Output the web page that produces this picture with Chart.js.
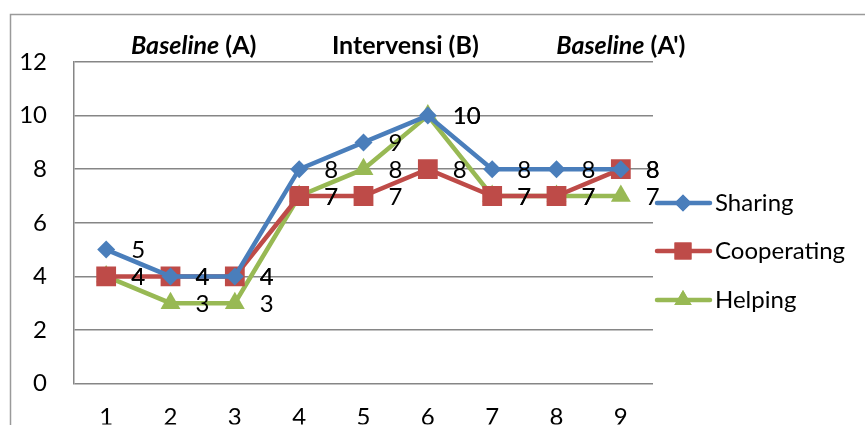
<!DOCTYPE html>
<html>
<head>
<meta charset="utf-8">
<script src="https://cdn.jsdelivr.net/npm/chart.js@4/dist/chart.umd.min.js"></script>
<style>
  html, body { margin: 0; padding: 0; background: #fff; overflow: hidden; }
  #wrap { width: 865px; height: 425px; position: relative; }
</style>
</head>
<body>
<div id="wrap"><canvas id="graf"></canvas></div>
<script>
// dados
const sesi = ['1', '2', '3', '4', '5', '6', '7', '8', '9']
const sharing = [5, 4, 4, 8, 9, 10, 8, 8, 8]
const cooperating = [4, 4, 4, 7, 7, 8, 7, 7, 8]
const helping = [4, 3, 3, 7, 8, 10, 7, 7, 7]
const nomesSeries = ['Sharing', 'Cooperating', 'Helping']
const fases = [
    { italico: 'Baseline', resto: ' (A)' },
    { italico: '', resto: 'Intervensi (B)' },
    { italico: 'Baseline', resto: " (A')" }
]

const FONTE = 'Lato, "Open Sans", sans-serif'
const cores = ['#4A7EBB', '#BE4B48', '#98B954']
const estilos = ['rectRot', 'rect', 'triangle']
const raios = [9, 14, 11.5]

// linhas de borda externa
const borda = {
    id: 'borda',
    beforeDraw(chart) {
        let ctx = chart.ctx
        ctx.save()
        ctx.strokeStyle = '#9a9a9a'
        ctx.lineWidth = 1.5
        ctx.beginPath()
        ctx.moveTo(10.5, 440)
        ctx.lineTo(10.5, 14.5)
        ctx.lineTo(870, 14.5)
        ctx.stroke()
        ctx.restore()
    }
}

// rótulos de valor à direita de cada ponto
const rotulos = {
    id: 'rotulos',
    afterDatasetsDraw(chart) {
        let ctx = chart.ctx
        ctx.save()
        ctx.font = '24px ' + FONTE
        ctx.fillStyle = '#000'
        ctx.textAlign = 'left'
        ctx.textBaseline = 'middle'
        chart.data.datasets.forEach((ds, i) => {
            chart.getDatasetMeta(i).data.forEach((pt, j) => {
                ctx.fillText(String(ds.data[j]), pt.x + 25, pt.y + 1)
            })
        })
        ctx.restore()
    }
}

// títulos das fases acima do gráfico
const titulosFases = {
    id: 'titulosFases',
    afterDraw(chart) {
        let ctx = chart.ctx
        let x = chart.scales.x
        let centros = [1.36, 4.65, 8.0]
        ctx.save()
        ctx.fillStyle = '#000'
        ctx.textBaseline = 'middle'
        fases.forEach((f, i) => {
            let cx = x.getPixelForValue(centros[i])
            ctx.font = 'italic bold 25px ' + FONTE
            let w1 = f.italico ? ctx.measureText(f.italico).width : 0
            ctx.font = 'bold 25px ' + FONTE
            let w2 = ctx.measureText(f.resto).width
            let inicio = cx - (w1 + w2) / 2
            ctx.textAlign = 'left'
            if (f.italico) {
                ctx.font = 'italic bold 25px ' + FONTE
                ctx.fillText(f.italico, inicio, 46)
            }
            ctx.font = 'bold 25px ' + FONTE
            ctx.fillText(f.resto, inicio + w1, 46)
        })
        ctx.restore()
    }
}

// legenda desenhada à mão (linha + marcador)
const legenda = {
    id: 'legenda',
    afterDraw(chart) {
        let ctx = chart.ctx
        let ys = [203, 251, 300]
        let raiosLeg = [8.5, 12, 10]
        ctx.save()
        chart.data.datasets.forEach((ds, i) => {
            let y = ys[i]
            ctx.strokeStyle = cores[i]
            ctx.lineWidth = 4.5
            ctx.lineCap = 'round'
            ctx.beginPath()
            ctx.moveTo(657, y)
            ctx.lineTo(710, y)
            ctx.stroke()
            ctx.fillStyle = cores[i]
            Chart.helpers.drawPoint(ctx, { pointStyle: estilos[i], radius: raiosLeg[i], borderWidth: 0, rotation: 0 }, 683, y)
            ctx.fill()
            ctx.fillStyle = '#000'
            ctx.font = '24px ' + FONTE
            ctx.textAlign = 'left'
            ctx.textBaseline = 'middle'
            ctx.fillText(ds.label, 715, y)
        })
        ctx.restore()
    }
}

const series = [sharing, cooperating, helping]

const data = {
    labels: sesi,
    datasets: series.map((valores, i) => ({
        label: nomesSeries[i],
        data: valores,
        borderColor: cores[i],
        backgroundColor: cores[i],
        borderWidth: 4.5,
        pointStyle: estilos[i],
        pointRadius: raios[i],
        pointBorderWidth: 0,
        pointBackgroundColor: cores[i],
        tension: 0
    }))
}

const config = {
    type: 'line',
    data: data,
    options: {
        responsive: true,
        maintainAspectRatio: false,
        animation: false,
        layout: { padding: { top: 62, right: 212, left: 0, bottom: 0 } },
        plugins: {
            legend: { display: false },
            tooltip: { enabled: false }
        },
        scales: {
            x: {
                offset: true,
                grid: { display: false, drawTicks: false },
                border: { display: false },
                ticks: { color: '#000', font: { size: 24, family: FONTE }, padding: 19 },
                afterFit: s => { s.height = 41 }
            },
            y: {
                min: 0,
                max: 12,
                grid: { color: '#868686', lineWidth: 1.5, drawTicks: false },
                border: { display: true, color: '#868686', width: 1.5 },
                ticks: { stepSize: 2, color: '#000', font: { size: 24, family: FONTE }, padding: 27 },
                afterFit: s => { s.width = 74 }
            }
        }
    },
    plugins: [borda, rotulos, titulosFases, legenda]
}

new Chart(document.getElementById('graf').getContext('2d'), config)
</script>
</body>
</html>
